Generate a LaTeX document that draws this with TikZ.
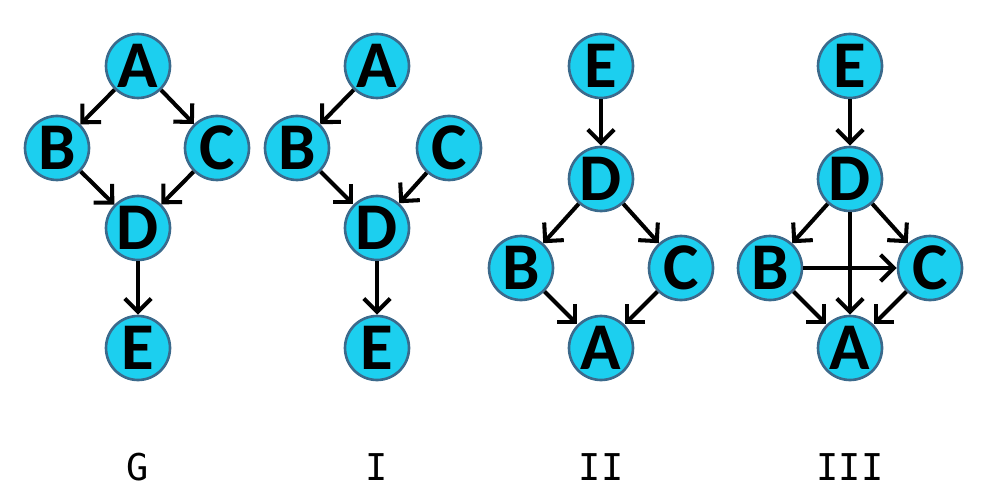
\documentclass[tikz,border=0pt]{standalone}
\usepackage{fontspec}
\setsansfont{Carlito}
\newfontfamily\labelfont{DejaVu Sans Mono}
\usetikzlibrary{arrows.meta}
\definecolor{nodefill}{HTML}{1CCFEF}
\definecolor{nodeline}{HTML}{3B6A8C}
\tikzset{
  vert/.style={circle, draw=nodeline, fill=nodefill, line width=1.5pt,
    minimum size=1.28cm, inner sep=0pt,
    font=\sffamily\bfseries\fontsize{38}{38}\selectfont},
  edge/.style={-{Straight Barb[length=7.5pt,width=15pt]}, line width=2.3pt},
  caption/.style={font=\labelfont\fontsize{21}{21}\selectfont}
}
\begin{document}
\begin{tikzpicture}[x=0.02cm, y=-0.02cm]
            \useasboundingbox (0,0) rectangle (986,503);
            % G
            \node[vert] (gA) at (138,66) {A};
            \node[vert] (gB) at (57,148) {B};
            \node[vert] (gC) at (217,148) {C};
            \node[vert] (gD) at (138,228) {D};
            \node[vert] (gE) at (138,348) {E};
            \draw[edge] (gA) -- (gB);
            \draw[edge] (gA) -- (gC);
            \draw[edge] (gB) -- (gD);
            \draw[edge] (gC) -- (gD);
            \draw[edge] (gD) -- (gE);

            % I
            \node[vert] (iA) at (377,66) {A};
            \node[vert] (iB) at (297,148) {B};
            \node[vert] (iC) at (449,148) {C};
            \node[vert] (iD) at (377,228) {D};
            \node[vert] (iE) at (377,348) {E};
            \draw[edge] (iA) -- (iB);
            \draw[edge] (iB) -- (iD);
            \draw[edge] (iC) -- (iD);
            \draw[edge] (iD) -- (iE);

            % II
            \node[vert] (iiE) at (601,66) {E};
            \node[vert] (iiD) at (601,179) {D};
            \node[vert] (iiB) at (521,268) {B};
            \node[vert] (iiC) at (681,268) {C};
            \node[vert] (iiA) at (601,348) {A};
            \draw[edge] (iiE) -- (iiD);
            \draw[edge] (iiD) -- (iiB);
            \draw[edge] (iiD) -- (iiC);
            \draw[edge] (iiB) -- (iiA);
            \draw[edge] (iiC) -- (iiA);

            % III
            \node[vert] (iiiE) at (850,66) {E};
            \node[vert] (iiiD) at (850,179) {D};
            \node[vert] (iiiB) at (770,268) {B};
            \node[vert] (iiiC) at (930,268) {C};
            \node[vert] (iiiA) at (850,348) {A};
            \draw[edge] (iiiE) -- (iiiD);
            \draw[edge] (iiiD) -- (iiiB);
            \draw[edge] (iiiD) -- (iiiC);
            \draw[edge] (iiiD) -- (iiiA);
            \draw[edge] (iiiB) -- (iiiC);
            \draw[edge] (iiiB) -- (iiiA);
            \draw[edge] (iiiC) -- (iiiA);

            % captions
            \node[caption] (capG) at (138,467) {G};
            \node[caption] (capI) at (377,467) {I};
            \node[caption] (capII) at (601,467) {II};
            \node[caption] (capIII) at (850,467) {III};
\end{tikzpicture}
\end{document}
